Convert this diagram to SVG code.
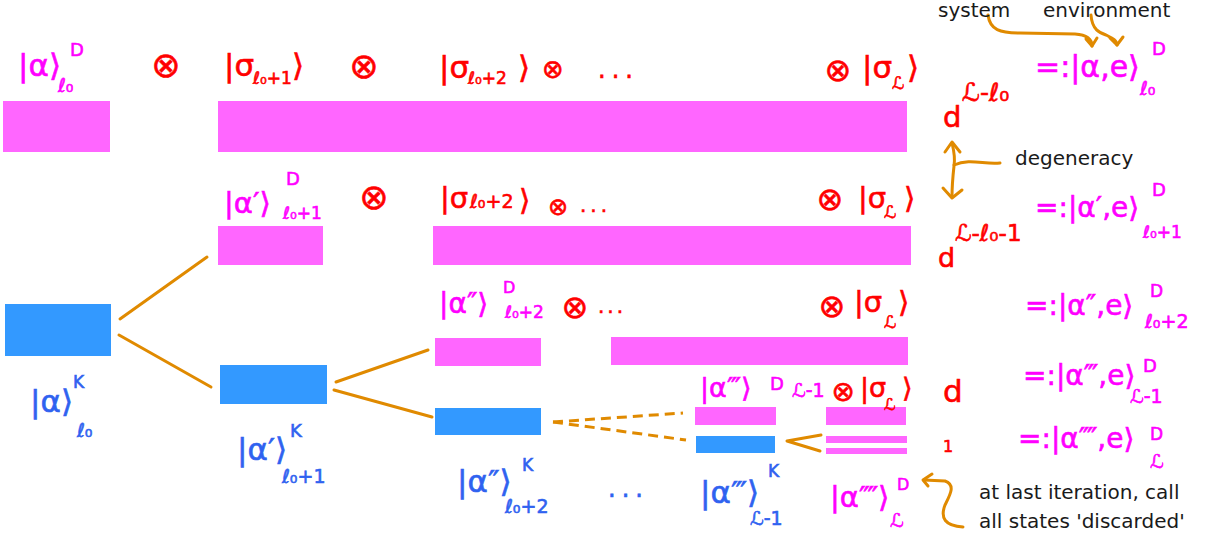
<svg xmlns="http://www.w3.org/2000/svg" width="1215" height="540" viewBox="0 0 1215 540">
<style>
text{font-family:"DejaVu Sans","Noto Sans",sans-serif}
.m{fill:#ff00ff;stroke:#ff00ff;stroke-width:0.6}
.r{fill:#ff0000;stroke:#ff0000;stroke-width:0.6}
.b{fill:#2f62f0;stroke:#2f62f0;stroke-width:0.6}
.k{fill:#1a1a1a;font-size:20px}
.pm{fill:#ff66ff}
.pb{fill:#3399ff}
.o{fill:none;stroke:#e08a00;stroke-width:3;stroke-linecap:round;stroke-linejoin:round}
.od{fill:none;stroke:#e08a00;stroke-width:3;stroke-dasharray:10 6}
.ot{text-anchor:middle}
</style>
<rect width="1215" height="540" fill="#ffffff"/>

<!-- bars -->
<g id="bar-r1-a"><rect class="pm" x="3" y="101" width="107" height="51"/></g>
<g id="bar-r1-b"><rect class="pm" x="218" y="101" width="689" height="51"/></g>
<g id="bar-r2-a"><rect class="pm" x="218" y="226" width="105" height="39"/></g>
<g id="bar-r2-b"><rect class="pm" x="433" y="226" width="478" height="39"/></g>
<g id="bar-b1"><rect class="pb" x="5" y="304" width="106" height="52"/></g>
<g id="bar-r3-a"><rect class="pm" x="435" y="338" width="106" height="28"/></g>
<g id="bar-r3-b"><rect class="pm" x="611" y="337" width="297" height="28"/></g>
<g id="bar-b2"><rect class="pb" x="220" y="365" width="107" height="39"/></g>
<g id="bar-r4-a"><rect class="pm" x="695" y="407" width="81" height="18"/></g>
<g id="bar-r4-b"><rect class="pm" x="826" y="407" width="80" height="18"/></g>
<g id="bar-b3"><rect class="pb" x="435" y="408" width="106" height="27"/></g>
<g id="bar-b4"><rect class="pb" x="696" y="436" width="79" height="17"/></g>
<g id="bar-r5"><rect class="pm" x="826" y="436" width="81" height="7"/><rect class="pm" x="826" y="448" width="81" height="6"/></g>

<!-- connectors -->
<g id="connectors">
<line class="o" x1="120" y1="319" x2="207" y2="257"/>
<line class="o" x1="119" y1="335" x2="211" y2="387"/>
<line class="o" x1="336" y1="382" x2="428" y2="350"/>
<line class="o" x1="334" y1="390" x2="432" y2="417"/>
<path class="od" d="M553,422 L683,413"/>
<path class="od" d="M553,422 L686,440"/>
<polyline class="o" points="821,435 787,441 820,451"/>
<path class="o" d="M988,15 C990,30 1000,33 1020,33 L1075,34 C1088,35 1092,40 1092,46"/>
<polyline class="o" points="1086,39 1092,46 1097,38"/>
<path class="o" d="M1091,15 C1092,30 1100,33 1106,35 C1112,38 1117,40 1117,45"/>
<polyline class="o" points="1110,38 1117,45 1123,37"/>
<path class="o" d="M952,143 C955,155 955,160 954,166 C953,175 952,190 952,197"/>
<path class="o" d="M954,165 C970,158 985,165 1000,163"/>
<polyline class="o" points="945,152 952,142 960,152"/>
<polyline class="o" points="943,188 952,198 962,190"/>
<path class="o" d="M963,527 C945,526 940,518 945,505 C950,495 956,485 945,481 L924,480"/>
<polyline class="o" points="932,474 923,480 928,486"/>
</g>

<!-- row 1 labels -->
<g id="label-r1">
<text class="m" x="18" y="76" font-size="31">|α⟩</text>
<text class="m" x="70" y="56" font-size="18">D</text>
<text class="m" x="58" y="92" font-size="19">ℓ₀</text>
<text class="r ot" x="166" y="77" font-size="35">⊗</text>
<text class="r" x="224" y="76" font-size="31">|σ</text>
<text class="r" x="253" y="84" font-size="17">ℓ₀+1</text>
<text class="r" x="292" y="76" font-size="31">⟩</text>
<text class="r ot" x="364" y="78" font-size="35">⊗</text>
<text class="r" x="439" y="78" font-size="31">|σ</text>
<text class="r" x="468" y="84" font-size="17">ℓ₀+2</text>
<text class="r" x="518" y="78" font-size="31">⟩</text>
<text class="r ot" x="553" y="78" font-size="26">⊗</text>
<text class="r" x="598" y="78" font-size="24" letter-spacing="6">...</text>
<text class="r ot" x="838" y="81" font-size="32">⊗</text>
<text class="r" x="862" y="78" font-size="31">|σ</text>
<text class="r" x="892" y="89" font-size="17">ℒ</text>
<text class="r" x="907" y="78" font-size="31">⟩</text>
</g>

<!-- row 2 labels -->
<g id="label-r2">
<text class="m" x="224" y="213" font-size="29">|α′⟩</text>
<text class="m" x="286" y="185" font-size="18">D</text>
<text class="m" x="283" y="219" font-size="17">ℓ₀+1</text>
<text class="r ot" x="374" y="209" font-size="35">⊗</text>
<text class="r" x="440" y="208" font-size="29">|σ</text>
<text class="r" x="470" y="208" font-size="19">ℓ₀+2</text>
<text class="r" x="519" y="210" font-size="29">⟩</text>
<text class="r ot" x="558" y="215" font-size="24">⊗</text>
<text class="r" x="580" y="212" font-size="20" letter-spacing="4">...</text>
<text class="r ot" x="830" y="210" font-size="32">⊗</text>
<text class="r" x="858" y="208" font-size="29">|σ</text>
<text class="r" x="884" y="218" font-size="17">ℒ</text>
<text class="r" x="904" y="208" font-size="29">⟩</text>
</g>

<!-- row 3 labels -->
<g id="label-r3">
<text class="m" x="439" y="313" font-size="28">|α″⟩</text>
<text class="m" x="503" y="293" font-size="16">D</text>
<text class="m" x="505" y="318" font-size="17">ℓ₀+2</text>
<text class="r ot" x="575" y="318" font-size="32">⊗</text>
<text class="r" x="598" y="313" font-size="20" letter-spacing="3">...</text>
<text class="r ot" x="832" y="317" font-size="32">⊗</text>
<text class="r" x="854" y="312" font-size="29">|σ</text>
<text class="r" x="884" y="328" font-size="17">ℒ</text>
<text class="r" x="898" y="312" font-size="29">⟩</text>
</g>

<!-- row 4 labels -->
<g id="label-r4">
<text class="m" x="700" y="397" font-size="27">|α‴⟩</text>
<text class="m" x="770" y="390" font-size="18">D</text>
<text class="m" x="792" y="397" font-size="19">ℒ-1</text>
<text class="r ot" x="843" y="401" font-size="28">⊗</text>
<text class="r" x="860" y="397" font-size="27">|σ</text>
<text class="r" x="884" y="410" font-size="16">ℒ</text>
<text class="r" x="902" y="397" font-size="27">⟩</text>
</g>

<!-- right column -->
<g id="label-right">
<text class="r" x="943" y="127" font-size="29">d</text>
<text class="r" x="962" y="101" font-size="25">ℒ-ℓ₀</text>
<text class="m" x="1035" y="77" font-size="30">=:|α,e⟩</text>
<text class="m" x="1152" y="55" font-size="18">D</text>
<text class="m" x="1140" y="95" font-size="19">ℓ₀</text>
<text class="r" x="938" y="267" font-size="27">d</text>
<text class="r" x="955" y="241" font-size="23">ℒ-ℓ₀-1</text>
<text class="m" x="1035" y="217" font-size="28">=:|α′,e⟩</text>
<text class="m" x="1152" y="196" font-size="18">D</text>
<text class="m" x="1143" y="238" font-size="17">ℓ₀+1</text>
<text class="m" x="1025" y="315" font-size="28">=:|α″,e⟩</text>
<text class="m" x="1150" y="297" font-size="17">D</text>
<text class="m" x="1145" y="328" font-size="19">ℓ₀+2</text>
<text class="r" x="943" y="402" font-size="31">d</text>
<text class="m" x="1023" y="385" font-size="28">=:|α‴,e⟩</text>
<text class="m" x="1143" y="372" font-size="18">D</text>
<text class="m" x="1130" y="403" font-size="19">ℒ-1</text>
<text class="r" x="943" y="452" font-size="16">1</text>
<text class="m" x="1018" y="448" font-size="28">=:|α⁗,e⟩</text>
<text class="m" x="1150" y="440" font-size="17">D</text>
<text class="m" x="1150" y="468" font-size="19">ℒ</text>
</g>

<!-- blue labels -->
<g id="label-bottom">
<text class="b" x="30" y="412" font-size="31">|α⟩</text>
<text class="b" x="73" y="388" font-size="17">K</text>
<text class="b" x="77" y="437" font-size="19">ℓ₀</text>
<text class="b" x="237" y="460" font-size="31">|α′⟩</text>
<text class="b" x="290" y="437" font-size="18">K</text>
<text class="b" x="282" y="483" font-size="19">ℓ₀+1</text>
<text class="b" x="457" y="492" font-size="31">|α″⟩</text>
<text class="b" x="522" y="471" font-size="17">K</text>
<text class="b" x="505" y="513" font-size="19">ℓ₀+2</text>
<text class="b" x="608" y="497" font-size="24" letter-spacing="6">...</text>
<text class="b" x="700" y="503" font-size="31">|α‴⟩</text>
<text class="b" x="768" y="477" font-size="17">K</text>
<text class="b" x="750" y="525" font-size="19">ℒ-1</text>
<text class="m" x="830" y="507" font-size="29">|α⁗⟩</text>
<text class="m" x="897" y="490" font-size="16">D</text>
<text class="m" x="890" y="527" font-size="19">ℒ</text>
</g>

<!-- annotations -->
<g id="annotations">
<text class="k" x="938" y="17">system</text>
<text class="k" x="1043" y="17">environment</text>
<text class="k" x="1015" y="165">degeneracy</text>
<text class="k" x="979" y="499">at last iteration, call</text>
<text class="k" x="979" y="528">all states 'discarded'</text>
</g>
</svg>
